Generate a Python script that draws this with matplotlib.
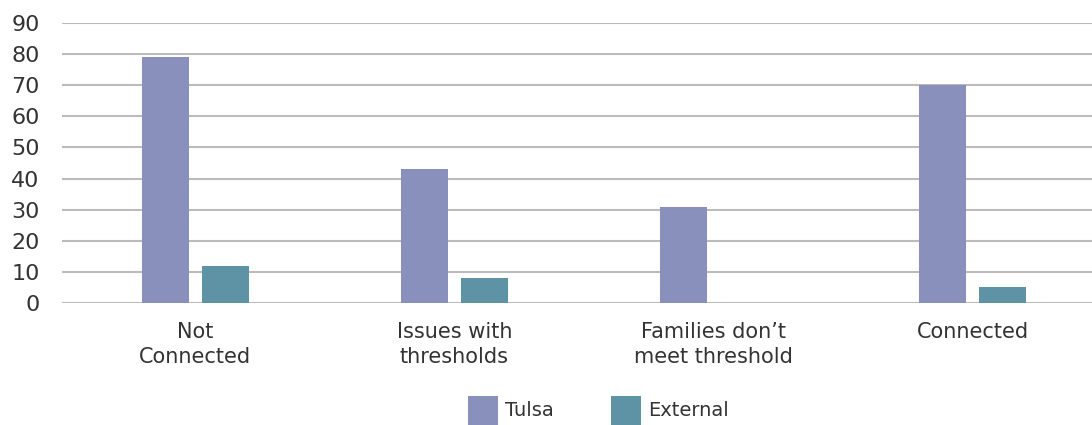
import matplotlib
matplotlib.use("Agg")
import matplotlib.pyplot as plt
import numpy as np

categories = ["Not\nConnected", "Issues with\nthresholds", "Families don’t\nmeet threshold", "Connected"]
tulsa = [79, 43, 31, 70]
external = [12, 8, 0, 5]
yticks = [0, 10, 20, 30, 40, 50, 60, 70, 80, 90]

plt.rcParams['font.family'] = ['DejaVu Sans']

fig = plt.figure(figsize=(10.92, 4.25), dpi=100)
# axes extends slightly past right edge of figure, like the reference
ax = fig.add_axes([62 / 1092, 0.287, 1040 / 1092, 0.659])

x = np.arange(len(categories))
w = 0.183
off = w / 2 + 0.025
ax.bar(x - off, tulsa, width=w, color="#8A90BC", label="Tulsa", zorder=3)
ax.bar(x + off, external, width=w, color="#5E93A5", label="External", zorder=3)

ax.set_xlim(-0.515, 3.5)
ax.set_ylim(0, 90)
ax.set_yticks(yticks)
ax.set_yticklabels([str(v) for v in yticks], fontsize=16, color="#333333")
ax.set_xticks(x)
ax.set_xticklabels(categories, fontsize=15, color="#333333", linespacing=1.3)
ax.tick_params(axis="both", length=0)
ax.tick_params(axis="y", pad=16)
ax.tick_params(axis="x", pad=14)
for s in ax.spines.values():
    s.set_visible(False)
ax.yaxis.grid(True, color="#BBBBBB", linewidth=1.5, zorder=0)
ax.set_axisbelow(True)

leg = fig.legend(loc="lower center", bbox_to_anchor=(0.548, -0.04), ncol=2, frameon=False,
                 fontsize=14, handlelength=1.55, handleheight=1.9, columnspacing=2.9,
                 handletextpad=0.4)
for t in leg.get_texts():
    t.set_color("#333333")

fig.savefig("out.png", dpi=100)
